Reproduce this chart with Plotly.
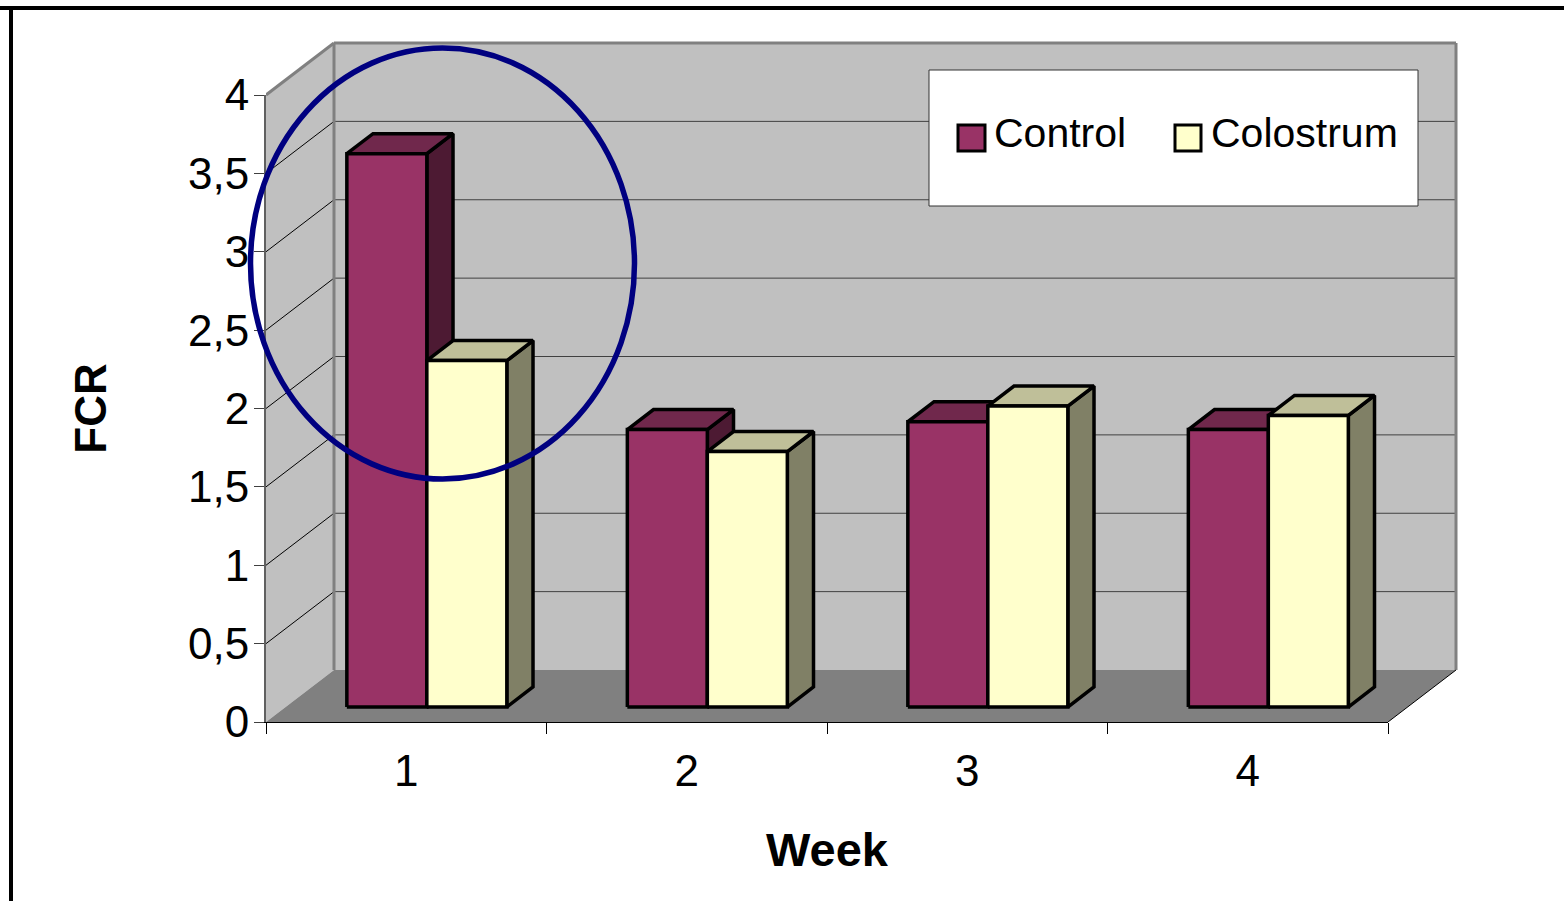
import plotly.graph_objects as go

# Feed conversion ratio per week for the two groups
weeks = [1, 2, 3, 4]
week_labels = ["1", "2", "3", "4"]
control = [3.53, 1.77, 1.82, 1.77]
colostrum = [2.21, 1.63, 1.92, 1.86]
y_ticks = [0, 0.5, 1, 1.5, 2, 2.5, 3, 3.5, 4]
y_tick_labels = ["0", "0,5", "1", "1,5", "2", "2,5", "3", "3,5", "4"]
series_names = ["Control", "Colostrum"]

WIDTH, HEIGHT = 1564, 901
# Front plane of the chart box, in page pixels
LEFT, RIGHT, TOP, BOTTOM = 266, 1388, 95, 722
# Drawing area also holds the receding walls
DRAW_RIGHT, DRAW_TOP = 1462, 38
X_MIN, X_MAX = 0.5, 4.5
Y_MIN, Y_MAX = 0, 4

PX_PER_X = (RIGHT - LEFT) / (X_MAX - X_MIN)
PX_PER_Y = (BOTTOM - TOP) / (Y_MAX - Y_MIN)
X_DRAW_MAX = X_MIN + (DRAW_RIGHT - LEFT) / PX_PER_X
Y_DRAW_MAX = Y_MIN + (BOTTOM - DRAW_TOP) / PX_PER_Y

# Oblique projection: how far one full unit of chart depth moves a point, in axis units
SHEAR_X = 68 / PX_PER_X
SHEAR_Y = 52 / PX_PER_Y
BAR_DEPTH_FRONT, BAR_DEPTH_BACK = 0.288, 0.673
BAR_WIDTH = 0.2852
BAR_SHIFT = 1 / PX_PER_X

FONT = "Liberation Sans"
STYLES = {
    "Control": dict(front="#993366", side="#4D1A33", top="#70284C"),
    "Colostrum": dict(front="#FFFFCC", side="#808066", top="#BFBF99"),
}


def project(x, y, depth):
    return x + depth * SHEAR_X, y + depth * SHEAR_Y


def polygon(points, fill, line="rgba(0,0,0,0)", width=0):
    xs, ys = zip(*(project(*p) for p in points))
    return go.Scatter(
        x=list(xs) + [xs[0]], y=list(ys) + [ys[0]], mode="lines", fill="toself",
        fillcolor=fill, line=dict(color=line, width=width, simplify=False),
        showlegend=False, hoverinfo="skip",
    )


def segment(p0, p1, color, width):
    xs, ys = zip(project(*p0), project(*p1))
    return go.Scatter(
        x=list(xs), y=list(ys), mode="lines", line=dict(color=color, width=width),
        showlegend=False, hoverinfo="skip",
    )


def bar_faces(x0, x1, value, style):
    d0, d1 = BAR_DEPTH_FRONT, BAR_DEPTH_BACK
    outline = dict(line="#000000", width=3.5)
    return [
        polygon([(x1, 0, d0), (x1, 0, d1), (x1, value, d1), (x1, value, d0)], style["side"], **outline),
        polygon([(x0, value, d0), (x0, value, d1), (x1, value, d1), (x1, value, d0)], style["top"], **outline),
        polygon([(x0, 0, d0), (x1, 0, d0), (x1, value, d0), (x0, value, d0)], style["front"], **outline),
    ]


fig = go.Figure()

# Chart box: back wall, side wall, floor
fig.add_trace(polygon([(X_MIN, Y_MIN, 1), (X_MAX, Y_MIN, 1), (X_MAX, Y_MAX, 1), (X_MIN, Y_MAX, 1)], "#C0C0C0"))
fig.add_trace(polygon([(X_MIN, Y_MIN, 0), (X_MIN, Y_MIN, 1), (X_MIN, Y_MAX, 1), (X_MIN, Y_MAX, 0)], "#C0C0C0"))
fig.add_trace(polygon([(X_MIN, Y_MIN, 0), (X_MAX, Y_MIN, 0), (X_MAX, Y_MIN, 1), (X_MIN, Y_MIN, 1)], "#808080"))

# Gridlines wrap around the side wall and the back wall
for tick in y_ticks[1:-1]:
    fig.add_trace(segment((X_MIN, tick, 0), (X_MIN, tick, 1), "#000000", 1))
    fig.add_trace(segment((X_MIN, tick, 1), (X_MAX, tick, 1), "#404040", 1))

# Box edges
fig.add_trace(segment((X_MIN, Y_MIN, 1), (X_MIN, Y_MAX, 1), "#808080", 3))
fig.add_trace(segment((X_MAX, Y_MIN, 1), (X_MAX, Y_MAX, 1), "#808080", 3))
fig.add_trace(segment((X_MIN, Y_MAX, 1), (X_MAX, Y_MAX, 1), "#808080", 3))
fig.add_trace(segment((X_MIN, Y_MAX, 0), (X_MIN, Y_MAX, 1), "#808080", 3))
fig.add_trace(segment((X_MAX, Y_MIN, 0), (X_MAX, Y_MIN, 1), "#000000", 1))

# Bars, painted left to right so nearer faces overlap correctly
for week, a, b in zip(weeks, control, colostrum):
    mid = week + BAR_SHIFT
    fig.add_traces(bar_faces(mid - BAR_WIDTH, mid, a, STYLES[series_names[0]]))
    fig.add_traces(bar_faces(mid, mid + BAR_WIDTH, b, STYLES[series_names[1]]))

# Keeps the visible tick axes attached to a subplot of their own
fig.add_trace(go.Scatter(x=weeks, y=control, xaxis="x2", yaxis="y2", mode="none",
                         showlegend=False, hoverinfo="skip"))


def paper_x(px):
    return (px - LEFT) / (DRAW_RIGHT - LEFT)


def paper_y(py):
    return (BOTTOM - py) / (BOTTOM - DRAW_TOP)


def paper_shape(kind, x0, y0, x1, y1, **style):
    return dict(type=kind, xref="paper", yref="paper", x0=paper_x(x0), x1=paper_x(x1),
                y0=paper_y(y0), y1=paper_y(y1), **style)


shapes = [
    # Outer frame along the top and left of the page
    paper_shape("line", 0, 8, WIDTH, 8, line=dict(color="#000000", width=4)),
    paper_shape("line", 11, 8, 11, HEIGHT, line=dict(color="#000000", width=4)),
    # Legend panel and its keys, drawn directly because the keys are larger than a native legend allows
    paper_shape("rect", 929, 70, 1418, 206, fillcolor="#FFFFFF", line=dict(color="#333333", width=1)),
    paper_shape("rect", 958, 125, 985, 151, fillcolor=STYLES["Control"]["front"], line=dict(color="#000000", width=3)),
    paper_shape("rect", 1175, 125, 1201, 151, fillcolor=STYLES["Colostrum"]["front"], line=dict(color="#000000", width=3)),
    # Highlight around the first week
    paper_shape("circle", 250.5, 48, 634.5, 479, line=dict(color="#000080", width=5.5)),
]

annotations = [
    dict(text=name, xref="paper", yref="paper", x=paper_x(px), y=paper_y(132.5), xanchor="left",
         yanchor="middle", showarrow=False, font=dict(family=FONT, size=41, color="#000000"))
    for name, px in zip(series_names, [992, 1209])
]

fig.update_layout(
    width=WIDTH, height=HEIGHT, autosize=False,
    margin=dict(l=LEFT, r=WIDTH - DRAW_RIGHT, t=DRAW_TOP, b=HEIGHT - BOTTOM, pad=0),
    paper_bgcolor="#FFFFFF", plot_bgcolor="rgba(0,0,0,0)",
    font=dict(family=FONT, color="#000000"),
    showlegend=False, shapes=shapes, annotations=annotations,
    # Drawing axes carry the box and the bars; they share the scale of the tick axes
    xaxis=dict(range=[X_MIN, X_DRAW_MAX], visible=False, fixedrange=True),
    yaxis=dict(range=[Y_MIN, Y_DRAW_MAX], visible=False, fixedrange=True),
    xaxis2=dict(
        domain=[0, (RIGHT - LEFT) / (DRAW_RIGHT - LEFT)], anchor="y2",
        range=[X_MIN, X_MAX], tickmode="array", tickvals=weeks, ticktext=week_labels, ticks="",
        tickfont=dict(size=44), ticklabelstandoff=10, showgrid=False, zeroline=False,
        showline=True, linecolor="#000000", linewidth=1,
        minor=dict(tickmode="array", tickvals=[w - 0.5 for w in weeks] + [weeks[-1] + 0.5],
                   ticks="outside", ticklen=11, tickwidth=1, tickcolor="#000000", showgrid=False),
        title=dict(text="<b>Week</b>", font=dict(size=47), standoff=39),
    ),
    yaxis2=dict(
        domain=[0, (BOTTOM - TOP) / (BOTTOM - DRAW_TOP)], anchor="x2",
        range=[Y_MIN, Y_MAX], tickmode="array", tickvals=y_ticks, ticktext=y_tick_labels,
        ticks="outside", ticklen=10, tickwidth=1, tickcolor="#404040", ticklabelstandoff=-4,
        tickfont=dict(size=44), showgrid=False, zeroline=False,
        showline=True, linecolor="#606060", linewidth=2,
        title=dict(text="<b>FCR</b>", font=dict(size=44), standoff=68),
    ),
)

fig.write_html("out.html")
